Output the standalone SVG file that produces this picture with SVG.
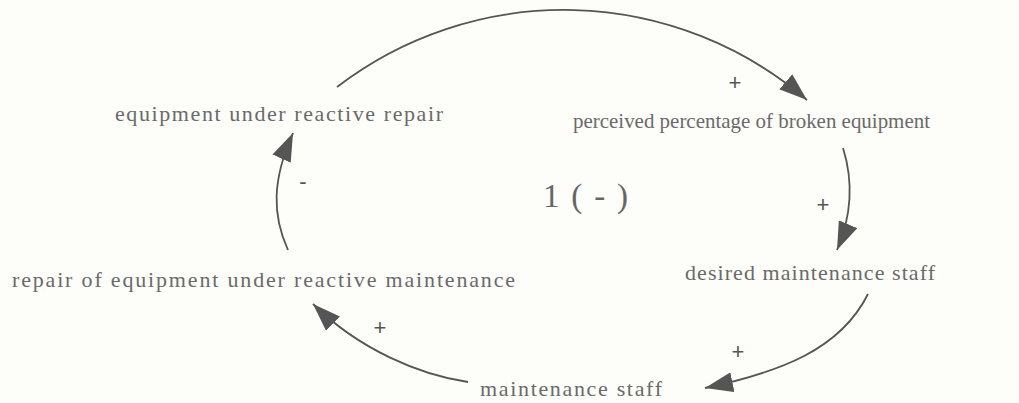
<svg xmlns="http://www.w3.org/2000/svg" width="1019" height="403" viewBox="0 0 1019 403">
<defs>
<style>
.lbl{font-family:"Liberation Serif","Times New Roman",serif;font-size:22px;fill:#6a6a6a}
.pol{font-family:"Liberation Sans",Arial,sans-serif;font-size:22px;fill:#555}
.loop{font-family:"Liberation Serif","Times New Roman",serif;font-size:33px;fill:#666}
.link{fill:none;stroke:#555;stroke-width:1.8;marker-end:url(#ah)}
</style>
<marker id="ah" viewBox="0 0 28 20" refX="28" refY="10" markerWidth="28" markerHeight="20" markerUnits="userSpaceOnUse" orient="auto">
<path d="M0,0 L28,10 L0,20 Z" fill="#555"/>
</marker>
</defs>
<rect width="1019" height="403" fill="#fdfdf9"/>
<g id="connectors">
<path class="link" d="M337,87 A373,373 0 0 1 807,100"/>
<path class="link" d="M843,148 C853,180 852,215 837,250"/>
<path class="link" d="M868,294 C840,350 780,372 705,388"/>
<path class="link" d="M468,382 C420,375 360,350 313,304"/>
<path class="link" d="M288,250 C272,215 272,180 293,133"/>
</g>
<g id="n1"><text class="lbl" x="115" y="121" textLength="328" lengthAdjust="spacing">equipment under reactive repair</text></g>
<g id="n2"><text class="lbl" x="573" y="128" textLength="357" lengthAdjust="spacingAndGlyphs">perceived percentage of broken equipment</text></g>
<g id="n3"><text class="lbl" x="685" y="280" textLength="250" lengthAdjust="spacing">desired maintenance staff</text></g>
<g id="n4"><text class="lbl" x="480" y="396" textLength="182" lengthAdjust="spacing">maintenance staff</text></g>
<g id="n5"><text class="lbl" x="12" y="287" textLength="503" lengthAdjust="spacing">repair of equipment under reactive maintenance</text></g>
<g id="polarities">
<text class="pol" x="735" y="90" text-anchor="middle">+</text>
<text class="pol" x="823" y="212" text-anchor="middle">+</text>
<text class="pol" x="738" y="359" text-anchor="middle">+</text>
<text class="pol" x="380" y="335" text-anchor="middle">+</text>
<text class="pol" x="303" y="189" text-anchor="middle">-</text>
</g>
<g id="loop"><text class="loop" x="543" y="207" textLength="85" lengthAdjust="spacing">1 ( - )</text></g>
</svg>
